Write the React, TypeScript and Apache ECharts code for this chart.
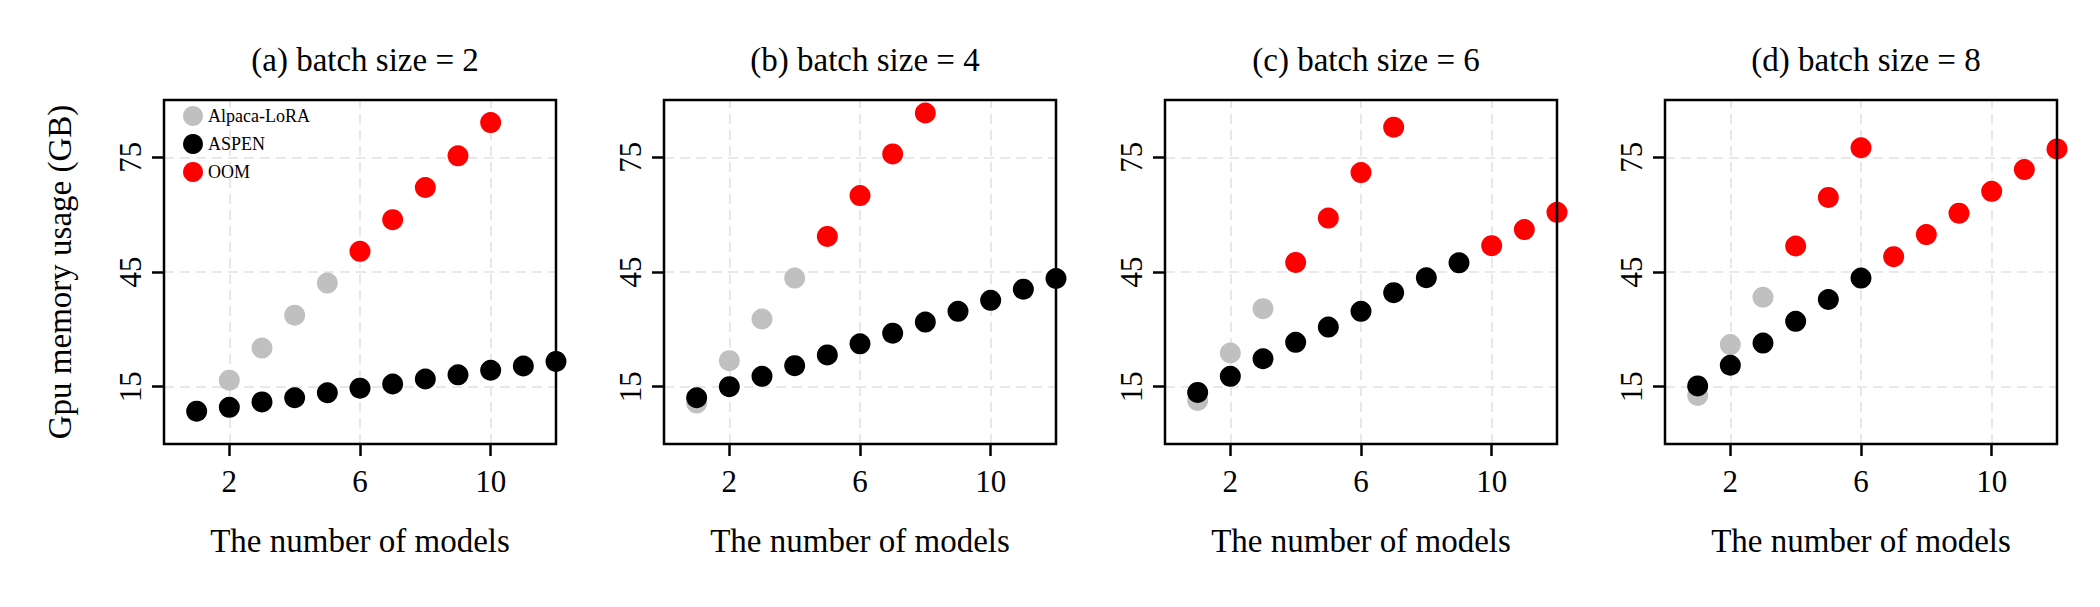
import React, { useEffect, useRef } from 'react';
import * as echarts from 'echarts';

const titles = ['(a) batch size = 2', '(b) batch size = 4', '(c) batch size = 6', '(d) batch size = 8'];
const xTicks = [2, 6, 10];
const yTicks = [15, 45, 75];

// [models, GB]
const alpacaA = [[2, 16.7], [3, 25.1], [4, 33.7], [5, 42.1]];
const aspenA = [[1, 8.6], [2, 9.6], [3, 11], [4, 12.1], [5, 13.4], [6, 14.6], [7, 15.7], [8, 17], [9, 18.1], [10, 19.3], [11, 20.4], [12, 21.6]];
const oomA = [[6, 50.4], [7, 58.7], [8, 67.1], [9, 75.4], [10, 84.1]];

const alpacaB = [[1, 10.7], [2, 21.8], [3, 32.7], [4, 43.4]];
const aspenB = [[1, 12.1], [2, 15], [3, 17.7], [4, 20.5], [5, 23.3], [6, 26.2], [7, 29], [8, 31.9], [9, 34.7], [10, 37.6], [11, 40.5], [12, 43.3]];
const oomB = [[5, 54.3], [6, 65], [7, 75.9], [8, 86.6]];

const alpacaC = [[1, 11.4], [2, 23.8], [3, 35.4]];
const aspenC = [[1, 13.5], [2, 17.7], [3, 22.3], [4, 26.6], [5, 30.6], [6, 34.7], [7, 39.6], [8, 43.5], [9, 47.4]];
const oomC = [[4, 47.5], [5, 59.1], [6, 71], [7, 82.9], [10, 51.9], [11, 56.1], [12, 60.6]];

const alpacaD = [[1, 12.7], [2, 26], [3, 38.4]];
const aspenD = [[1, 15.2], [2, 20.6], [3, 26.4], [4, 32.1], [5, 37.8], [6, 43.4]];
const oomD = [[4, 51.8], [5, 64.5], [6, 77.5], [7, 49], [8, 54.8], [9, 60.4], [10, 66.1], [11, 71.8], [12, 77.2]];

const panels = [
  [alpacaA, aspenA, oomA],
  [alpacaB, aspenB, oomB],
  [alpacaC, aspenC, oomC],
  [alpacaD, aspenD, oomD],
];

const FONT = '"Liberation Serif", "DejaVu Serif", serif';
const lefts = [164, 664, 1165, 1665];
const W = 392;

export default function App() {
  const ref = useRef<HTMLDivElement>(null);
  useEffect(() => {
    document.body.style.margin = '0';
    if (!ref.current) return;
    const chart = echarts.init(ref.current, null, { renderer: 'svg' });
    const grid: any[] = [], xAxis: any[] = [], yAxis: any[] = [], series: any[] = [], title: any[] = [];
    const gridLine = { color: '#e8e8e8', type: [10, 6], width: 2 };
    panels.forEach((p, i) => {
      grid.push({ left: lefts[i], width: W, top: 100, height: 344, show: true, borderColor: '#000', borderWidth: 2.5, backgroundColor: 'transparent', z: 10 });
      title.push({ text: titles[i], left: lefts[i] + W / 2, top: 38, textAlign: 'center', textStyle: { fontFamily: FONT, fontSize: 33, fontWeight: 'normal', color: '#000' } });
      xAxis.push({
        type: 'value', gridIndex: i, min: 0, max: 12,
        name: 'The number of models', nameLocation: 'middle', nameGap: 80,
        nameTextStyle: { fontFamily: FONT, fontSize: 33, color: '#000' },
        axisLine: { show: false }, splitLine: { show: false },
        axisTick: { show: true, length: 12, inside: false, customValues: xTicks, lineStyle: { color: '#000', width: 2.5 } },
        axisLabel: { customValues: xTicks, fontFamily: FONT, fontSize: 31, color: '#000', margin: 22 },
      });
      yAxis.push({
        type: 'value', gridIndex: i, min: 0, max: 90,
        name: i === 0 ? 'Gpu memory usage (GB)' : '', nameLocation: 'middle', nameGap: 88,
        nameTextStyle: { fontFamily: FONT, fontSize: 33, color: '#000' },
        axisLine: { show: false }, splitLine: { show: false },
        axisTick: { show: true, length: 12, customValues: yTicks, lineStyle: { color: '#000', width: 2.5 } },
        axisLabel: { customValues: yTicks, rotate: 90, fontFamily: FONT, fontSize: 31, color: '#000', margin: 18 },
      });
      series.push({
        type: 'scatter', xAxisIndex: i, yAxisIndex: i, data: [], silent: true, z: 0, zlevel: 0,
        markLine: {
          silent: true, symbol: 'none', label: { show: false }, lineStyle: gridLine, z: 0,
          data: [...xTicks.map((v) => ({ xAxis: v })), ...yTicks.map((v) => ({ yAxis: v }))],
        },
      });
      const names = ['Alpaca-LoRA', 'ASPEN', 'OOM'];
      const colors = ['#c0c0c0', '#000000', '#ff0000'];
      p.forEach((d, k) => {
        series.push({
          type: 'scatter', name: names[k], xAxisIndex: i, yAxisIndex: i, data: d,
          symbolSize: 21, itemStyle: { color: colors[k], opacity: 1 }, clip: true, z: 5 + k,
        });
      });
    });
    chart.setOption({
      animation: false,
      title, grid, xAxis, yAxis, series,
      legend: {
        data: ['Alpaca-LoRA', 'ASPEN', 'OOM'], orient: 'vertical', left: 178, top: 101,
        itemWidth: 20, itemHeight: 20, itemGap: 8, icon: 'circle',
        textStyle: { fontFamily: FONT, fontSize: 18, color: '#000' }, selectedMode: false,
      },
    });
    return () => chart.dispose();
  }, []);
  return <div ref={ref} style={{ width: 2100, height: 607 }} />;
}
